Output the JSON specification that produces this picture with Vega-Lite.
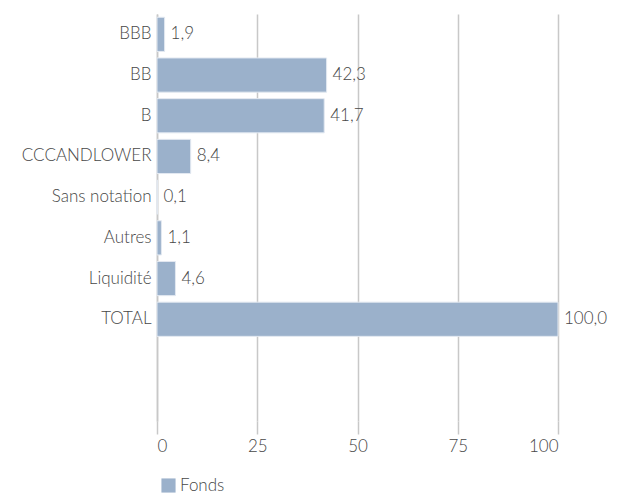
{
  "$schema": "https://vega.github.io/schema/vega-lite/v6.json",
  "autosize": "none",
  "width": 401,
  "height": 407,
  "padding": {"left": 157, "top": 14, "right": 65, "bottom": 74},
  "config": {
    "locale": {"number": {"decimal": ",", "thousands": " ", "grouping": [3], "currency": ["", " €"]}},
    "font": "Lato",
    "view": {"stroke": null},
    "axis": {"labelColor": "#474747", "labelFont": "Lato", "labelFontSize": 17, "labelFontWeight": 300}
  },
  "data": {
    "values": [
      {"rating": "BBB", "serie": "Fonds", "value": 1.9},
      {"rating": "BB", "serie": "Fonds", "value": 42.3},
      {"rating": "B", "serie": "Fonds", "value": 41.7},
      {"rating": "CCCANDLOWER", "serie": "Fonds", "value": 8.4},
      {"rating": "Sans notation", "serie": "Fonds", "value": 0.1},
      {"rating": "Autres", "serie": "Fonds", "value": 1.1},
      {"rating": "Liquidité", "serie": "Fonds", "value": 4.6},
      {"rating": "TOTAL", "serie": "Fonds", "value": 100.0}
    ]
  },
  "encoding": {
    "y": {
      "field": "rating",
      "type": "nominal",
      "title": null,
      "scale": {
        "domain": ["BBB", "BB", "B", "CCCANDLOWER", "Sans notation", "Autres", "Liquidité", "TOTAL", "_e1", "_e2"],
        "paddingInner": 0.16,
        "paddingOuter": 0.08
      },
      "axis": {
        "labelExpr": "indexof(datum.value, '_e') == 0 ? '' : datum.value",
        "ticks": false,
        "domain": true,
        "domainColor": "#c8c8c8",
        "domainWidth": 1.5,
        "labelPadding": 6
      }
    },
    "x": {
      "field": "value",
      "type": "quantitative",
      "title": null,
      "scale": {"domain": [0, 100], "nice": false},
      "axis": {
        "values": [0, 25, 50, 75, 100],
        "grid": true,
        "gridColor": "#c8c8c8",
        "gridWidth": 1.5,
        "domain": false,
        "ticks": true,
        "tickColor": "#c8c8c8",
        "tickWidth": 1.5,
        "tickSize": 13,
        "labelPadding": 4
      }
    }
  },
  "layer": [
    {
      "mark": {"type": "bar", "stroke": "#e3e9f1", "strokeWidth": 1},
      "encoding": {
        "color": {
          "field": "serie",
          "type": "nominal",
          "scale": {"range": ["#9bb1cb"]},
          "legend": {
            "title": null,
            "orient": "none",
            "legendX": 3,
            "legendY": 463,
            "symbolType": "square",
            "symbolSize": 200,
            "symbolStrokeWidth": 0,
            "labelFontSize": 17,
            "labelFontWeight": 300,
            "labelColor": "#474747",
            "labelFont": "Lato",
            "labelOffset": 3
          }
        }
      }
    },
    {
      "mark": {"type": "text", "align": "left", "baseline": "middle", "dx": 6, "fontSize": 17, "fontWeight": 300, "color": "#474747"},
      "encoding": {
        "text": {"field": "value", "type": "quantitative", "format": ".1f"}
      }
    }
  ]
}
